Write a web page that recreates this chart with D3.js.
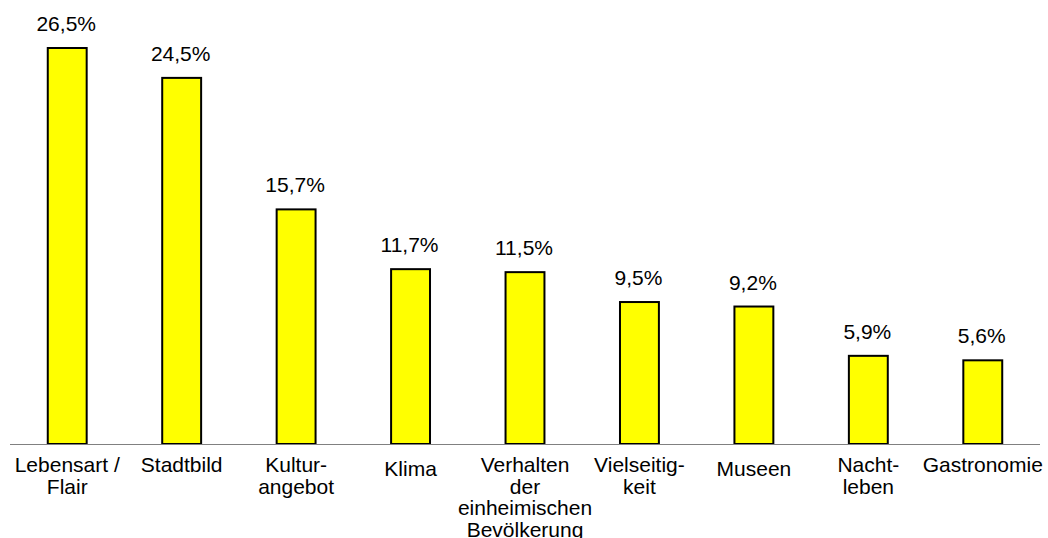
<!DOCTYPE html>
<html>
<head>
<meta charset="utf-8">
<script src="https://cdn.jsdelivr.net/npm/d3@7"></script>
<style>
  body { margin: 0; background: #fff; }
  text { font-family: "Liberation Sans", Arial, sans-serif; fill: #000; }
</style>
</head>
<body>
<div id="chart"></div>
<script>
// Daten
var categories = [
  ["Lebensart /", "Flair"],
  ["Stadtbild"],
  ["Kultur-", "angebot"],
  ["Klima"],
  ["Verhalten", "der", "einheimischen", "Bevölkerung"],
  ["Vielseitig-", "keit"],
  ["Museen"],
  ["Nacht-", "leben"],
  ["Gastronomie"]
];
var values = [26.5, 24.5, 15.7, 11.7, 11.5, 9.5, 9.2, 5.9, 5.6];
var valueLabels = ["26,5%", "24,5%", "15,7%", "11,7%", "11,5%", "9,5%", "9,2%", "5,9%", "5,6%"];

var width = 1048, height = 538;
var baseY = 444;

var svg = d3.select("#chart").append("svg")
    .attr("width", width)
    .attr("height", height);

var x = d3.scaleBand()
    .domain(d3.range(values.length))
    .range([10, 1040])
    .paddingInner(0.66)
    .paddingOuter(0.33);

var y = d3.scaleLinear()
    .domain([0, 26.5])
    .range([baseY, 48]);

// Balken
svg.selectAll("rect.bar")
  .data(values)
  .enter().append("rect")
    .attr("class", "bar")
    .attr("x", function(d, i) { return x(i); })
    .attr("y", function(d) { return y(d); })
    .attr("width", x.bandwidth())
    .attr("height", function(d) { return baseY - y(d); })
    .attr("fill", "#ffff00")
    .attr("stroke", "#000")
    .attr("stroke-width", 2);

// Achse
svg.append("line")
    .attr("x1", 10).attr("x2", 1040)
    .attr("y1", baseY + 0.5).attr("y2", baseY + 0.5)
    .attr("stroke", "#808080")
    .attr("stroke-width", 1);

// Werte
svg.selectAll("text.val")
  .data(values)
  .enter().append("text")
    .attr("class", "val")
    .attr("x", function(d, i) { return x(i) + x.bandwidth() / 2 - 1; })
    .attr("y", function(d) { return y(d) - 17; })
    .attr("text-anchor", "middle")
    .style("font-size", "21px")
    .text(function(d, i) { return valueLabels[i]; });

// Kategorien
var singleShift = { 3: 4, 6: 4 };   // Klima, Museen sitzen etwas tiefer
var cat = svg.selectAll("text.cat")
  .data(categories)
  .enter().append("text")
    .attr("class", "cat")
    .attr("text-anchor", "middle")
    .style("font-size", "21px")
    .attr("transform", function(d, i) {
      return "translate(" + (x(i) + x.bandwidth() / 2) + "," + (472 + (singleShift[i] || 0)) + ")";
    });

cat.selectAll("tspan")
  .data(function(d) { return d; })
  .enter().append("tspan")
    .attr("x", 0)
    .attr("y", function(d, j) { return j * 21.7; })
    .text(function(d) { return d; });
</script>
</body>
</html>
